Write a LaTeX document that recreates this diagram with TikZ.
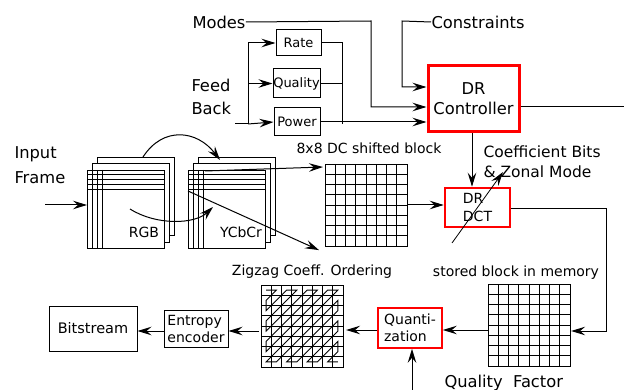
\documentclass[tikz,border=0pt]{standalone}
\usepackage{fontspec}
\setmainfont{DejaVu Sans}
\usetikzlibrary{arrows.meta}

\tikzset{every picture/.style={line width=1pt}}
\tikzset{
  big/.style={font=\fontsize{16.3}{20}\selectfont, inner sep=0pt},
  mid/.style={font=\fontsize{14}{17}\selectfont, inner sep=0pt},
  ctlbox/.style={draw, line width=1pt, font=\fontsize{13}{15}\selectfont, inner sep=0pt},
  blkbox/.style={draw, line width=1pt, font=\fontsize{14}{17}\selectfont, inner sep=0pt},
  framebox/.style={draw, fill=white, line width=1pt, minimum width=77, minimum height=78, inner sep=0pt},
  gridbox/.style={draw, line width=1.1pt, minimum size=82, inner sep=0pt},
  arr/.style={-{Stealth[length=14pt,width=8.5pt,inset=5pt]}},
}

% 8x8 block lines, #1,#2 = top left corner
\newcommand{\blocklines}[2]{%
  \foreach \k in {1,...,7}{
    \draw [line width=0.9pt] ({#1+\k*10.25},#2) -- ({#1+\k*10.25},{#2+82});
    \draw [line width=0.9pt] (#1,{#2+\k*10.25}) -- ({#1+82},{#2+\k*10.25});
  }}
% a stack of three frames, #1,#2 = top left corner of the front frame
\newcommand{\framestack}[3]{%
  \draw [fill=white] ({#1+10},{#2-12}) rectangle ({#1+87},{#2+66});
  \draw [fill=white] ({#1+5},{#2-6}) rectangle ({#1+82},{#2+73});
  \node [framebox, anchor=north west] (#3) at (#1,#2) {};
  \foreach \k in {5,10,15,20}{
    \draw ({#1},{#2+\k}) -- ({#1+77},{#2+\k});
  }
  \foreach \k in {5,10,15}{
    \draw ({#1+\k},{#2}) -- ({#1+\k},{#2+78});
  }}

\begin{document}
\begin{tikzpicture}[x=1pt,y=1pt,yscale=-1,xscale=1]
\useasboundingbox (0,0) rectangle (624,390);

%Shape: Rectangle [controller]
\node [draw=red, line width=3pt, minimum width=91, minimum height=66, big, align=center] (ctrl) at (473.5,99) {DR\\[0pt]Controller};
%Shape: Rectangle [feedback boxes]
\node [ctlbox, minimum width=45, minimum height=26] (rate) at (298.5,43) {Rate};
\node [ctlbox, minimum width=47, minimum height=29] (quality) at (296.5,83.5) {Quality};
\node [ctlbox, minimum width=46, minimum height=28] (power) at (297,122) {Power};

% Text Node
\node [big, anchor=west] (modes) at (192,22) {Modes};
% Text Node
\node [big, anchor=west] (constr) at (431,22) {Constraints};
% Text Node
\node [big, anchor=west, align=left, font=\fontsize{16.3}{23}\selectfont] (feed) at (191,97) {Feed\\Back};

%Straight Lines [feedback wiring]
\coordinate (fbin) at (235,124);
\coordinate (fbsplit) at (248,124);
\coordinate (fbjoin) at (342,124);
\draw (fbin) -- (fbsplit) -- (fbsplit |- rate.west);
\draw [arr] (fbsplit |- rate.west) -- (rate.west);
\draw [arr] (fbsplit |- quality.west) -- (quality.west);
\draw [arr] (fbsplit) -- (power.west);
\draw (rate.east) -- (fbjoin |- rate.east) -- (fbjoin);
\draw (quality.east) -- (fbjoin |- quality.east);
\draw [arr] (power.east) -- (power.east -| ctrl.west);

%Straight Lines [modes and constraints]
\coordinate (modesbend) at (371,21);
\coordinate (constrbend) at (402,21);
\draw [arr] (modes.east) -- (modesbend) -- (modesbend |- 0,107) -- (ctrl.west |- 0,107);
\draw [arr] (constr.west) -- (constrbend) -- (constrbend |- 0,87) -- (ctrl.west |- 0,87);
\coordinate (ctrlout) at (624,107);
\draw (ctrl.east |- ctrlout) -- (ctrlout);

% Text Node
\node [big, anchor=west, align=left, font=\fontsize{16.3}{25}\selectfont] (input) at (14,165) {Input\\Frame};
\coordinate (inarrow) at (45,205);

%Shape: frame stacks
\framestack{87}{170}{rgb}
\framestack{188}{170}{ycc}
\node [mid] (rgblbl) at (144,232) {RGB};
\node [mid] (ycclbl) at (241,232) {YCbCr};
\draw [arr] (inarrow) -- (inarrow -| rgb.west);

%Curve Lines [colour conversion]
\coordinate (rgbtop) at (143,157);
\coordinate (ycctop) at (220,160);
\coordinate (rgbmid) at (130,209);
\coordinate (yccmid) at (213,207);
\draw [arr] (rgbtop) .. controls (163,126) and (197,130) .. (ycctop);
\draw [arr] (rgbmid) .. controls (157,226) and (195,224) .. (yccmid);

%Shape: 8x8 blocks
\node [gridbox, anchor=north west] (dcblock) at (325,164) {};
\blocklines{325}{164}
\node [mid] (dclbl) at (369,148) {8x8 DC shifted block};
\coordinate (yccup) at (205,171);
\coordinate (yccdown) at (188,191);
\draw [arr] (yccup) -- ([shift={(-2,3)}]dcblock.north west);
\draw [arr] (yccdown) -- ([shift={(-6,3)}]dcblock.south west);

%Shape: DR DCT
\node [draw=red, line width=2.5pt, minimum width=65, minimum height=39, mid, align=left, font=\fontsize{14}{18}\selectfont] (dct) at (477.5,207.5) {DR\\DCT};
\draw [arr] (dcblock.east |- 0,205) -- (dct.west |- 0,205);
\draw [arr] (ctrl.south -| 472,0) -- (dct.north -| 472,0);
\node [big, anchor=west, align=left, font=\fontsize{15.5}{20}\selectfont] (coeff) at (483,162) {Coefficient Bits\\\& Zonal Mode};
\coordinate (coefffrom) at (452,243);
\coordinate (coeffto) at (503,172);
\draw [arr, line width=0.8pt] (coefffrom) -- (coeffto);

%Shape: stored block
\node [gridbox, anchor=north west] (stored) at (488,284) {};
\blocklines{488}{284}
\node [mid] (storedlbl) at (516,273) {stored block in memory};
\coordinate (dctbend) at (606,209);
\draw [arr] (dct.east |- dctbend) -- (dctbend) -- (dctbend |- 0,331) -- (stored.east |- 0,331);

%Shape: Quantization
\node [draw=red, line width=1.6pt, minimum width=64, minimum height=40, mid, align=left, font=\fontsize{14}{17}\selectfont] (quant) at (410,328) {Quanti-\\zation};
\draw [arr] (stored.west |- 0,330) -- (quant.east |- 0,330);
\coordinate (qfin) at (412,390);
\draw [arr] (qfin) -- (qfin |- quant.south);
\node [big, anchor=base west] (qflbl) at (444,387) {Quality\ \ Factor};

%Shape: zigzag block
\node [gridbox, anchor=north west] (zigzag) at (261,285) {};
\blocklines{261}{285}
\draw [line width=0.9pt] (266.1,290.1) \foreach \c/\r in {1/0,0/1,0/2,2/0,3/0,0/3,0/4,4/0,5/0,0/5,0/6,6/0,7/0,0/7,1/7,7/1,7/2,2/7,3/7,7/3,7/4,4/7,5/7,7/5,7/6,6/7,7/7}{ -- ({266.1+\c*10.25},{290.1+\r*10.25}) };
\node [mid] (ziglbl) at (312,272) {Zigzag Coeff. Ordering};
\draw [arr] (quant.west |- 0,330) -- ([xshift=2pt]zigzag.east |- 0,330);

%Shape: Entropy encoder and Bitstream
\node [blkbox, minimum width=64, minimum height=37, align=left, font=\fontsize{14}{17}\selectfont] (entropy) at (196,328.5) {Entropy\\encoder};
\node [blkbox, minimum width=88, minimum height=45, font=\fontsize{14.5}{17}\selectfont] (bits) at (93,328.5) {Bitstream};
\draw [arr] ([xshift=-2pt]zigzag.west |- 0,331) -- (entropy.east |- 0,331);
\draw [arr] (entropy.west |- 0,331) -- (bits.east |- 0,331);

\end{tikzpicture}
\end{document}
